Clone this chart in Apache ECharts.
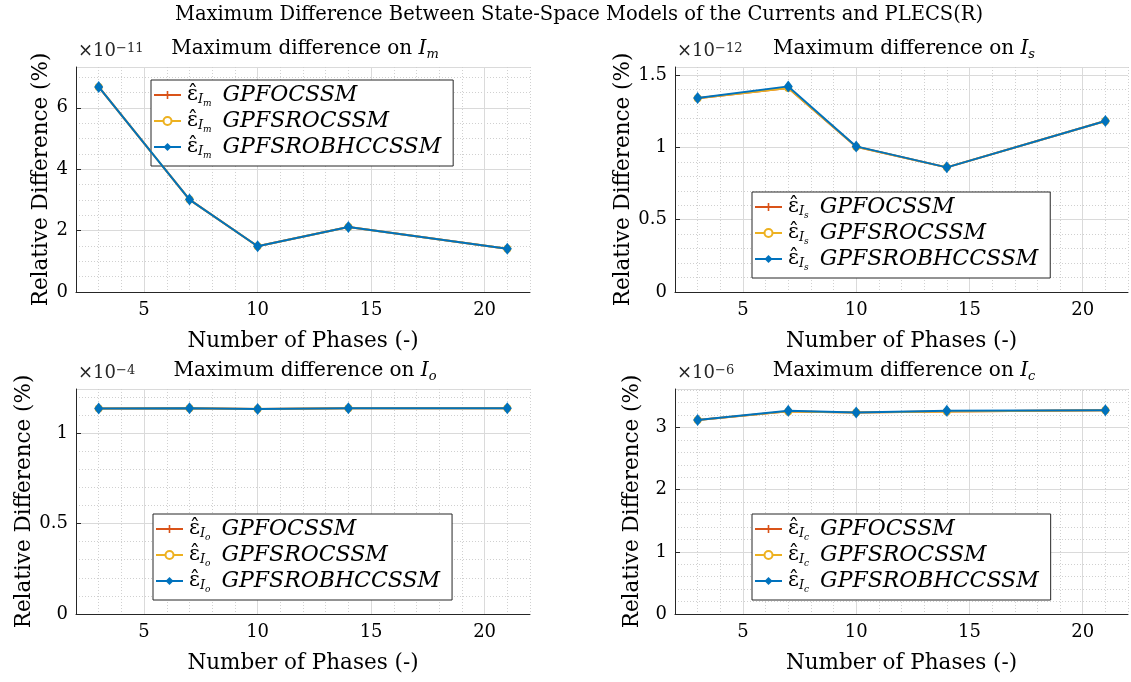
<!DOCTYPE html>
<html>
<head>
<meta charset="utf-8">
<script src="https://cdn.jsdelivr.net/npm/echarts@6/dist/echarts.min.js"></script>
<style>html,body{margin:0;padding:0;background:#fff}#c{width:1131px;height:682px}</style>
</head>
<body>
<div id="c"></div>
<script>
// ---------- data ----------
const phases = [3, 7, 10, 14, 21];
const seriesNames = ['GPFOCSSM', 'GPFSROCSSM', 'GPFSROBHCCSSM'];

// I_m (x 1e-11 %)
const imGPFO    = [6.68, 3.01, 1.49, 2.12, 1.41];
const imGPFSRO  = [6.68, 3.01, 1.49, 2.12, 1.41];
const imGPFSROB = [6.68, 3.01, 1.49, 2.12, 1.41];
// I_s (x 1e-12 %)
const isGPFO    = [1.340, 1.410, 1.005, 0.862, 1.182];
const isGPFSRO  = [1.340, 1.410, 1.005, 0.862, 1.182];
const isGPFSROB = [1.342, 1.422, 1.007, 0.862, 1.183];
// I_o (x 1e-4 %)
const ioGPFO    = [1.135, 1.136, 1.133, 1.136, 1.136];
const ioGPFSRO  = [1.135, 1.136, 1.133, 1.136, 1.136];
const ioGPFSROB = [1.135, 1.136, 1.133, 1.136, 1.136];
// I_c (x 1e-6 %)
const icGPFO    = [3.12, 3.26, 3.24, 3.26, 3.28];
const icGPFSRO  = [3.12, 3.26, 3.24, 3.26, 3.28];
const icGPFSROB = [3.12, 3.27, 3.24, 3.27, 3.28];

const panelSubs = ['m', 's', 'o', 'c'];
const panelExps = ['\u221211', '\u221212', '\u22124', '\u22126'];
const yMajorTicks = [2, 0.5, 0.5, 1];
const yMinorTicks = [0.5, 0.1, 0.1, 0.2];
const yMax = [7.33, 1.556, 1.243, 3.62];
const xMin = 2, xMax = 22;
const panelData = [
  [imGPFO, imGPFSRO, imGPFSROB],
  [isGPFO, isGPFSRO, isGPFSROB],
  [ioGPFO, ioGPFSRO, ioGPFSROB],
  [icGPFO, icGPFSRO, icGPFSROB]
];
const mainTitle = 'Maximum Difference Between State-Space Models of the Currents and PLECS(R)';
const subTitle = 'Maximum difference on ';
const xName = 'Number of Phases (-)';
const yName = 'Relative Difference (%)';

// ---------- styling / layout ----------
const SERIF = '"DejaVu Serif", "Liberation Serif", serif';
const colors = ['#D95319', '#EDB120', '#0072BD'];
const plusPath = 'path://M4,0H6V4H10V6H6V10H4V6H0V4H4Z';
const symbols = [plusPath, 'emptyCircle', 'diamond'];
const symSizes = [7, 6, [9, 12]];
const grids = [
  {left: 76, top: 67, width: 454, height: 225},
  {left: 675, top: 67, width: 454, height: 225},
  {left: 76, top: 389, width: 454, height: 225},
  {left: 675, top: 389, width: 454, height: 225}
];
const yNameGaps = [24, 32, 27, 32];
const legendPos = [[151, 80], [752, 192], [153, 514], [752, 514]];
const AX = '#262626';
const MAJ = '#dadada';
const MIN = '#d0d0d0';

const xAxes = [], yAxes = [], series = [], legends = [], graphics = [];
grids.forEach((g, i) => {
  // minor grid axes
  xAxes.push({type: 'value', gridIndex: i, min: xMin, max: xMax, interval: 1, position: 'top',
    axisLine: {show: false}, axisTick: {show: false}, axisLabel: {show: false},
    splitLine: {show: true, lineStyle: {color: MIN, type: [1, 2], width: 1}}});
  // major axes (labels, solid grid at 5,10,15,20)
  xAxes.push({type: 'value', gridIndex: i, min: xMin, max: xMax, interval: 1, position: 'bottom',
    axisLine: {show: true, onZero: false, lineStyle: {color: AX, width: 1}},
    axisTick: {show: false},
    axisLabel: {color: '#000', fontFamily: SERIF, fontSize: 18, margin: 9,
      formatter: v => (Math.round(v) % 5 === 0 ? String(Math.round(v)) : '')},
    splitLine: {show: true, lineStyle: {color: ['rgba(0,0,0,0)', 'rgba(0,0,0,0)', 'rgba(0,0,0,0)', MAJ, 'rgba(0,0,0,0)'], width: 1}},
    name: xName, nameLocation: 'middle', nameGap: 38,
    nameTextStyle: {color: '#000', fontFamily: SERIF, fontSize: 21.5}});
  yAxes.push({type: 'value', gridIndex: i, min: 0, max: yMax[i], interval: yMinorTicks[i], position: 'right',
    axisLine: {show: false}, axisTick: {show: false}, axisLabel: {show: false},
    splitLine: {show: true, lineStyle: {color: MIN, type: [1, 2], width: 1}}});
  yAxes.push({type: 'value', gridIndex: i, min: 0, max: yMax[i], interval: yMajorTicks[i], position: 'left',
    axisLine: {show: true, onZero: false, lineStyle: {color: AX, width: 1}},
    axisTick: {show: true, inside: true, length: 5, lineStyle: {color: AX}},
    axisLabel: {color: '#000', fontFamily: SERIF, fontSize: 18, margin: 8, showMaxLabel: false},
    splitLine: {show: true, lineStyle: {color: MAJ, width: 1}},
    name: yName, nameLocation: 'middle', nameGap: yNameGaps[i], nameRotate: 90,
    nameTextStyle: {color: '#000', fontFamily: SERIF, fontSize: 21.5}});

  const names = [];
  panelData[i].forEach((vals, k) => {
    const nm = panelSubs[i] + k;
    names.push(nm);
    series.push({
      type: 'line', name: nm, xAxisIndex: 2 * i + 1, yAxisIndex: 2 * i + 1,
      data: phases.map((x, j) => [x, vals[j]]),
      symbol: symbols[k], symbolSize: symSizes[k], showAllSymbol: true,
      lineStyle: {color: colors[k], width: 2},
      itemStyle: {color: colors[k], borderColor: colors[k], borderWidth: k === 1 ? 1.5 : 0},
      z: 3 + k, animation: false
    });
  });

  legends.push({
    left: legendPos[i][0], top: legendPos[i][1], orient: 'vertical',
    data: names, selectedMode: false, itemGap: 2, itemWidth: 27, itemHeight: 10,
    padding: [4, 12, 6, 2], backgroundColor: '#fff', borderColor: AX, borderWidth: 1,
    formatter: nm => {
      const k = +nm.slice(-1);
      const s = nm.slice(0, -1);
      return '{e|\u03b5\u0302}{s|I}{ss|' + s + '}{t|' + seriesNames[k] + '}';
    },
    textStyle: {
      color: '#000', fontFamily: SERIF,
      rich: {
        e: {fontFamily: SERIF, fontSize: 21, lineHeight: 26, color: '#000', padding: [0, 0, 0, 1]},
        s: {fontFamily: SERIF, fontStyle: 'italic', fontSize: 13, lineHeight: 14, verticalAlign: 'bottom', padding: [0, 0, 2, 0], color: '#000'},
        ss: {fontFamily: SERIF, fontStyle: 'italic', fontSize: 9, lineHeight: 10, verticalAlign: 'bottom', color: '#000'},
        t: {fontFamily: SERIF, fontStyle: 'italic', fontSize: 22, lineHeight: 26, padding: [0, 0, 0, 11], color: '#000'}
      }
    }
  });

  const cx = g.left + g.width / 2 + 2;
  graphics.push({
    type: 'text', x: cx, y: g.top - 18,
    style: {
      text: subTitle + '{i|I}{s|' + panelSubs[i] + '}',
      fontFamily: SERIF, fontSize: 20, fill: '#000', align: 'center', verticalAlign: 'middle',
      rich: {
        i: {fontFamily: SERIF, fontStyle: 'italic', fontSize: 20, fill: '#000', lineHeight: 25},
        s: {fontFamily: SERIF, fontStyle: 'italic', fontSize: 13, fill: '#000', lineHeight: 12, verticalAlign: 'bottom'}
      }
    }
  });
  graphics.push({
    type: 'text', x: g.left + 2, y: g.top - 16,
    style: {
      text: '\u00d710{p|' + panelExps[i] + '}',
      fontFamily: SERIF, fontSize: 18, fill: '#262626', align: 'left', verticalAlign: 'middle',
      rich: {
        p: {fontFamily: SERIF, fontSize: 13, fill: '#262626', lineHeight: 12, verticalAlign: 'top'}
      }
    }
  });
});

graphics.push({
  type: 'text', x: 579, y: 15,
  style: {text: mainTitle, fontFamily: SERIF, fontSize: 19.5, fill: '#000', align: 'center', verticalAlign: 'middle'}
});

const chart = echarts.init(document.getElementById('c'), null, {renderer: 'canvas'});
chart.setOption({
  animation: false,
  backgroundColor: '#fff',
  grid: grids.map(g => Object.assign({containLabel: false}, g)),
  xAxis: xAxes,
  yAxis: yAxes,
  legend: legends,
  series: series,
  graphic: graphics
});
</script>
</body>
</html>
